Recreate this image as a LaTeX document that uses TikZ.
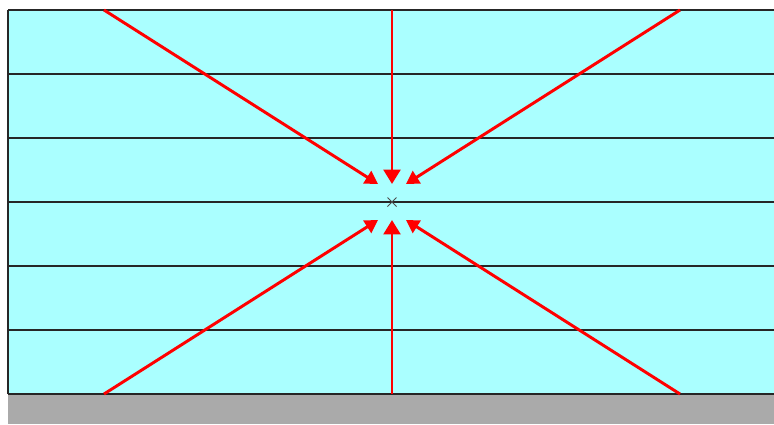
\documentclass[tikz,border=0pt]{standalone}
\usepackage{xcolor}
\usepackage{tikz}
\usetikzlibrary{arrows.meta, positioning, calc}

\definecolor{water}{HTML}{AAFFFF}
\definecolor{ground}{HTML}{AAAAAA}

\begin{document}
\begin{tikzpicture}[
    x=0.025cm, y=-0.025cm,
    layer/.style={draw=black!85, line width=0.75pt},
    flow/.style={draw=red, line width=2.1pt, -{Triangle[length=0.36cm, width=0.42cm]}},
    flowd/.style={draw=red, line width=2.1pt, -{Triangle[length=0.32cm, width=0.36cm]}},
    cross/.style={draw=black!70, line width=0.7pt}
]
\useasboundingbox (0,0) rectangle (774,424);

% Medium and base
\fill[water]  (8,10) rectangle (774,394);
\fill[ground] (8,394) rectangle (774,424);

% Layers
\foreach \yy in {10,74,138,202,266,330,394}
    \draw[layer] (8,\yy) -- (774,\yy);
\draw[layer] (8,10) -- (8,394);

% Centre point
\coordinate (ctr) at (392,202);
\draw[cross] ($(ctr)+(-4.5,-4.5)$) -- ($(ctr)+(4.5,4.5)$);
\draw[cross] ($(ctr)+(-4.5,4.5)$) -- ($(ctr)+(4.5,-4.5)$);

% Sources
\coordinate (tl) at (104,10);
\coordinate (tc) at (392,10);
\coordinate (tr) at (680,10);
\coordinate (bl) at (104,394);
\coordinate (bc) at (392,394);
\coordinate (br) at (680,394);

% Targets
\coordinate (etl) at (378,184);
\coordinate (etc) at (392,184);
\coordinate (etr) at (406,184);
\coordinate (ebl) at (378,220);
\coordinate (ebc) at (392,220);
\coordinate (ebr) at (406,220);

% Arrows
\draw[flowd] (tl) -- (etl);
\draw[flow]  (tc) -- (etc);
\draw[flowd] (tr) -- (etr);
\draw[flowd] (bl) -- (ebl);
\draw[flow]  (bc) -- (ebc);
\draw[flowd] (br) -- (ebr);

\end{tikzpicture}
\end{document}
